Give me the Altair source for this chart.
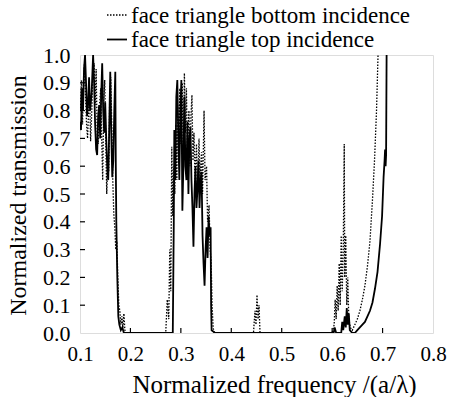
import altair as alt
import pandas as pd

FONT = "Times New Roman, Liberation Serif, DejaVu Serif, serif"

# face triangle bottom incidence (dotted)
x_bottom = [0.100, 0.101, 0.103, 0.105, 0.107, 0.109, 0.111, 0.113, 0.115, 0.117, 0.119, 0.121, 0.123, 0.125,
            0.128, 0.130, 0.132, 0.134, 0.136, 0.138, 0.141, 0.143, 0.145, 0.147, 0.149, 0.151, 0.153, 0.155,
            0.157, 0.159, 0.161, 0.163, 0.165, 0.167, 0.169, 0.171, 0.173, 0.175, 0.177, 0.179, 0.181, 0.183,
            0.185, 0.187, 0.189, 0.191,
            0.270, 0.273, 0.276, 0.278, 0.280, 0.282, 0.284, 0.286, 0.288, 0.290, 0.292, 0.294, 0.296, 0.298,
            0.300, 0.303, 0.305, 0.307, 0.309, 0.311, 0.313, 0.316, 0.318, 0.320, 0.322, 0.324, 0.326, 0.328,
            0.331, 0.333, 0.336, 0.338, 0.341, 0.343, 0.346, 0.348, 0.351, 0.353, 0.356, 0.358, 0.360, 0.362,
            0.364, 0.366,
            0.444, 0.447, 0.449, 0.451, 0.453, 0.455, 0.457,
            0.600, 0.604, 0.606, 0.608, 0.610, 0.612, 0.614, 0.616, 0.618, 0.620, 0.622, 0.624, 0.625, 0.627,
            0.629, 0.631, 0.633, 0.636, 0.640, 0.645, 0.650, 0.655, 0.660, 0.665, 0.670, 0.675, 0.680, 0.684,
            0.688, 0.691]
y_bottom = [0.88, 0.80, 0.91, 0.75, 0.90, 0.97, 0.85, 0.75, 0.70, 0.80, 0.86, 0.69, 0.78, 0.90,
            0.97, 0.82, 0.95, 0.72, 0.68, 0.80, 0.88, 0.70, 0.55, 0.82, 0.91, 0.70, 0.50, 0.62,
            0.58, 0.86, 0.92, 0.75, 0.55, 0.43, 0.38, 0.30, 0.33, 0.20, 0.10, 0.08, 0.03, 0.06,
            0.02, 0.07, 0.01, 0.00,
            0.00, 0.12, 0.05, 0.30, 0.15, 0.67, 0.42, 0.60, 0.50, 0.75, 0.55, 0.82, 0.62, 0.88,
            0.68, 0.90, 0.60, 0.935, 0.72, 0.88, 0.65, 0.80, 0.60, 0.78, 0.856, 0.62, 0.72, 0.55,
            0.68, 0.50, 0.70, 0.55, 0.65, 0.50, 0.80, 0.55, 0.60, 0.40, 0.46, 0.30, 0.26, 0.10,
            0.02, 0.00,
            0.00, 0.08, 0.03, 0.137, 0.05, 0.10, 0.00,
            0.00, 0.03, 0.12, 0.05, 0.17, 0.08, 0.25, 0.10, 0.35, 0.15, 0.30, 0.68, 0.20, 0.35,
            0.10, 0.20, 0.05, 0.02, 0.01, 0.03, 0.05, 0.08, 0.12, 0.17, 0.24, 0.33, 0.48, 0.62,
            0.80, 1.00]

# face triangle top incidence (solid)
x_top = [0.100, 0.102, 0.104, 0.106, 0.108, 0.110, 0.112, 0.114, 0.116, 0.118, 0.120, 0.123, 0.126, 0.128,
         0.130, 0.132, 0.134, 0.136, 0.138, 0.140, 0.142, 0.144, 0.146, 0.148, 0.150, 0.152, 0.154, 0.156,
         0.158, 0.160, 0.162, 0.164, 0.166, 0.168, 0.170, 0.171, 0.172, 0.174, 0.176, 0.178, 0.181, 0.184,
         0.187,
         0.284, 0.286, 0.287, 0.289, 0.291, 0.293, 0.295, 0.297, 0.299, 0.301, 0.303, 0.305, 0.307, 0.309,
         0.311, 0.313, 0.315, 0.317, 0.319, 0.321, 0.323, 0.325, 0.327, 0.329, 0.331, 0.333, 0.335, 0.337,
         0.339, 0.341, 0.343, 0.345, 0.347, 0.349, 0.351, 0.353, 0.355, 0.357, 0.359, 0.360, 0.361, 0.368,
         0.603, 0.605, 0.608, 0.618, 0.620, 0.622, 0.625, 0.627, 0.629, 0.631, 0.633, 0.635, 0.640, 0.645,
         0.650, 0.655, 0.660, 0.665, 0.670, 0.675, 0.680, 0.685, 0.690, 0.695, 0.699, 0.702, 0.704, 0.705,
         0.706, 0.707, 0.708]
y_top = [0.76, 0.73, 0.88, 0.80, 0.95, 1.00, 0.90, 0.78, 0.82, 0.92, 0.80, 0.86, 1.00, 0.90,
         0.75, 0.66, 0.64, 0.78, 0.82, 0.70, 0.85, 0.97, 0.80, 0.72, 0.83, 0.70, 0.60, 0.55,
         0.74, 0.94, 0.72, 0.56, 0.62, 0.80, 0.94, 0.60, 0.40, 0.20, 0.06, 0.03, 0.01, 0.02,
         0.00,
         0.00, 0.40, 0.73, 0.55, 0.85, 0.91, 0.70, 0.55, 0.80, 0.91, 0.44, 0.60, 0.85, 0.60,
         0.55, 0.76, 0.50, 0.70, 0.74, 0.55, 0.45, 0.31, 0.50, 0.60, 0.45, 0.52, 0.62, 0.45,
         0.55, 0.58, 0.35, 0.25, 0.17, 0.30, 0.38, 0.27, 0.42, 0.35, 0.38, 0.10, 0.01, 0.00,
         0.00, 0.02, 0.00, 0.00, 0.04, 0.01, 0.06, 0.02, 0.09, 0.03, 0.07, 0.01, 0.00, 0.00,
         0.01, 0.02, 0.03, 0.04, 0.06, 0.08, 0.11, 0.16, 0.22, 0.32, 0.42, 0.56, 0.62, 0.66,
         0.60, 0.64, 1.00]

x_ticks = [0.1, 0.2, 0.3, 0.4, 0.5, 0.6, 0.7, 0.8]
y_ticks = [0.0, 0.1, 0.2, 0.3, 0.4, 0.5, 0.6, 0.7, 0.8, 0.9, 1.0]
legend_labels = ["face triangle bottom incidence", "face triangle top incidence"]
x_title = "Normalized frequency /(a/λ)"
y_title = "Normalized transmission"

df_b = pd.DataFrame({"f": x_bottom, "t": y_bottom})
df_t = pd.DataFrame({"f": x_top, "t": y_top})

xs = alt.Scale(domain=[0.1, 0.8], nice=False, zero=False)
ys = alt.Scale(domain=[0, 1], nice=False)

xaxis = alt.Axis(values=x_ticks, format=".1f", title=x_title, ticks=False, domain=False, grid=False,
                 labelFont=FONT, labelFontSize=21, labelColor="black", labelPadding=10, labelFlush=False,
                 labelOverlap=False,
                 titleFont=FONT, titleFontSize=25, titleFontWeight="normal", titleColor="black",
                 titleX=194, titleY=59, titleAlign="center", titleBaseline="alphabetic")
yaxis = alt.Axis(values=y_ticks, format=".1f", title=y_title, ticks=False, domain=False, grid=False,
                 labelFont=FONT, labelFontSize=22, labelColor="black", labelPadding=10, labelFlush=False,
                 labelOverlap=False,
                 titleFont=FONT, titleFontSize=24, titleFontWeight="normal", titleColor="black",
                 titleX=-55, titleY=140, titleAlign="center", titleBaseline="alphabetic", titleAngle=270)

dotted = alt.Chart(df_b).mark_line(color="black", strokeWidth=1.3, strokeDash=[1.5, 1.5], clip=True).encode(
    x=alt.X("f:Q", scale=xs, axis=xaxis), y=alt.Y("t:Q", scale=ys, axis=yaxis))
solid = alt.Chart(df_t).mark_line(color="black", strokeWidth=1.8, clip=True).encode(
    x=alt.X("f:Q", scale=xs, axis=xaxis), y=alt.Y("t:Q", scale=ys, axis=yaxis))

xt = alt.Chart(pd.DataFrame({"f": x_ticks[1:-1]})).mark_tick(
    color="black", size=5, thickness=1.2, orient="vertical", opacity=1).encode(
    x=alt.X("f:Q", scale=xs, axis=xaxis), y=alt.value(275.5))
yt = alt.Chart(pd.DataFrame({"t": y_ticks[1:-1]})).mark_tick(
    color="black", size=5, thickness=1.2, orient="horizontal", opacity=1).encode(
    y=alt.Y("t:Q", scale=ys, axis=yaxis), x=alt.value(2.5))

one = pd.DataFrame({"a": [0]})
leg_line1 = alt.Chart(one).mark_rule(color="black", strokeWidth=1.3, strokeDash=[1.5, 1.5]).encode(
    x=alt.value(27), x2=alt.value(48), y=alt.value(-40))
leg_line2 = alt.Chart(one).mark_rule(color="black", strokeWidth=1.8).encode(
    x=alt.value(27), x2=alt.value(47), y=alt.value(-15.5))
leg_text1 = alt.Chart(one).mark_text(align="left", baseline="alphabetic", font=FONT, fontSize=23,
                                     color="black", text=legend_labels[0]).encode(
    x=alt.value(51), y=alt.value(-32))
leg_text2 = alt.Chart(one).mark_text(align="left", baseline="alphabetic", font=FONT, fontSize=23,
                                     color="black", text=legend_labels[1]).encode(
    x=alt.value(51), y=alt.value(-8.5))

chart = alt.layer(dotted, solid, xt, yt, leg_line1, leg_line2, leg_text1, leg_text2).properties(
    width=353, height=278,
    autosize=alt.AutoSizeParams(type="none"),
    padding={"left": 80, "top": 55, "right": 17, "bottom": 64},
).configure_view(stroke="black", strokeWidth=1).configure(background="white")

chart.save("out.html", embed_options={"renderer": "svg", "actions": False})
